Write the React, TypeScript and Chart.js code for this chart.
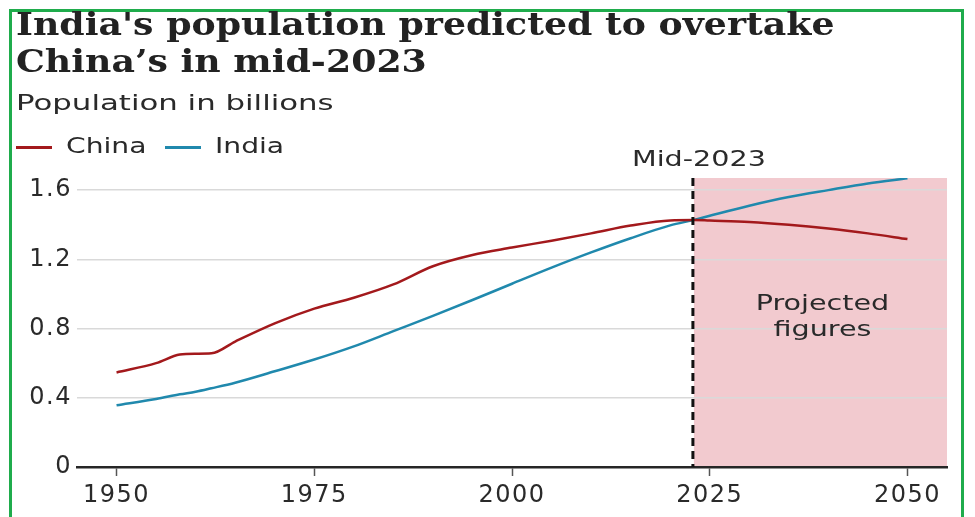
import React, { useEffect, useRef } from "react";
import { Chart, registerables } from "chart.js";

Chart.register(...registerables);

const years = [1950, 1955, 1958, 1960, 1962, 1965, 1970, 1975, 1980, 1985, 1990, 1995, 2000, 2005, 2010, 2015, 2020, 2023, 2025, 2030, 2035, 2040, 2045, 2050];
const chinaValues = [0.546, 0.6, 0.65, 0.655, 0.657, 0.725, 0.83, 0.915, 0.978, 1.055, 1.16, 1.225, 1.268, 1.308, 1.35, 1.395, 1.425, 1.427, 1.424, 1.416, 1.4, 1.378, 1.35, 1.317];
const indiaValues = [0.357, 0.393, 0.42, 0.435, 0.455, 0.487, 0.553, 0.621, 0.697, 0.785, 0.873, 0.965, 1.059, 1.152, 1.24, 1.322, 1.396, 1.428, 1.452, 1.51, 1.56, 1.6, 1.638, 1.668];
const xTicks = [1950, 1975, 2000, 2025, 2050];
const yTicks = [0, 0.4, 0.8, 1.2, 1.6];
const projectionStart = 2023;
const titleLines = ["India's population predicted to overtake", "China\u2019s in mid-2023"];
const subtitle = "Population in billions";
const seriesNames = ["China", "India"];
const markerLabel = "Mid-2023";
const projectionLabel = ["Projected", "figures"];

const CHINA = "#a3191c";
const INDIA = "#2089ad";
const SANS = "'DejaVu Sans', 'Open Sans', sans-serif";
const WIDE = 1.3;

function wideText(ctx: CanvasRenderingContext2D, text: string, x: number, y: number) {
  ctx.save();
  ctx.translate(x, y);
  ctx.scale(WIDE, 1);
  ctx.fillText(text, 0, 0);
  ctx.restore();
}

const projectionPlugin = {
  id: "projection",
  beforeDraw(chart: any) {
    const { ctx, chartArea, scales } = chart;
    const x0 = scales.x.getPixelForValue(projectionStart);
    ctx.save();
    ctx.fillStyle = "#f2cacf";
    ctx.fillRect(x0, chartArea.top, chartArea.right - x0, chartArea.bottom - chartArea.top);
    ctx.restore();
    ctx.letterSpacing = "1.5px";
  },
  afterDatasetsDraw(chart: any) {
    const { ctx, chartArea, scales } = chart;
    const x0 = scales.x.getPixelForValue(projectionStart);
    ctx.save();
    ctx.strokeStyle = "#111";
    ctx.lineWidth = 3;
    ctx.setLineDash([8, 5]);
    ctx.beginPath();
    ctx.moveTo(x0 - 1, chartArea.top);
    ctx.lineTo(x0 - 1, chartArea.bottom);
    ctx.stroke();
    ctx.setLineDash([]);
    ctx.fillStyle = "#2a2a2a";
    ctx.font = "22px " + SANS;
    (ctx as any).letterSpacing = "0px";
    ctx.textAlign = "center";
    ctx.textBaseline = "middle";
    wideText(ctx, markerLabel, x0 + 5, chartArea.top - 18);
    const cx = (x0 + chartArea.right) / 2 + 2;
    wideText(ctx, projectionLabel[0], cx, 304);
    wideText(ctx, projectionLabel[1], cx, 330);
    ctx.restore();
  },
};

export default function App() {
  const ref = useRef<HTMLCanvasElement>(null);
  useEffect(() => {
    document.body.style.margin = "0";
    const chart = new Chart(ref.current!, {
      type: "line",
      data: {
        datasets: [
          {
            label: seriesNames[0],
            data: years.map((y, i) => ({ x: y, y: chinaValues[i] })),
            borderColor: CHINA,
            borderWidth: 2.5,
            pointRadius: 0,
            cubicInterpolationMode: "monotone",
          },
          {
            label: seriesNames[1],
            data: years.map((y, i) => ({ x: y, y: indiaValues[i] })),
            borderColor: INDIA,
            borderWidth: 2.5,
            pointRadius: 0,
            cubicInterpolationMode: "monotone",
          },
        ],
      },
      options: {
        animation: false,
        responsive: false,
        devicePixelRatio: 1,
        layout: { padding: { top: 178, right: 28, left: 0, bottom: 0 } },
        plugins: { legend: { display: false }, title: { display: false }, tooltip: { enabled: false } },
        scales: {
          x: {
            type: "linear",
            min: 1945,
            max: 2055,
            afterBuildTicks: (s: any) => {
              s.ticks = xTicks.map((v) => ({ value: v }));
            },
            afterFit: (s: any) => {
              s.height = 50;
            },
            border: { display: true, color: "#262626", width: 2.5 },
            grid: { display: true, drawOnChartArea: false, drawTicks: true, tickLength: 9, tickColor: "#555", tickWidth: 1.5 },
            ticks: {
              color: "#2a2a2a",
              font: { family: SANS, size: 24 },
              padding: 5,
              maxRotation: 0,
              callback: (v: any) => String(v),
            },
          },
          y: {
            min: 0,
            max: 1.67,
            afterBuildTicks: (s: any) => {
              s.ticks = yTicks.map((v) => ({ value: v }));
            },
            afterFit: (s: any) => {
              s.width = 77;
            },
            border: { display: false },
            grid: {
              color: (c: any) => (c.tick && c.tick.value === 0 ? "rgba(0,0,0,0)" : "#d9d9d9"),
              lineWidth: 1.5,
              drawTicks: false,
            },
            ticks: {
              color: "#2a2a2a",
              font: { family: SANS, size: 24 },
              padding: 5,
              callback: (v: any) => (v === 0 ? "0" : Number(v).toFixed(1)),
            },
          },
        },
      },
      plugins: [projectionPlugin],
    });
    return () => chart.destroy();
  }, []);

  const sansText = (k: number): React.CSSProperties => ({
    position: "absolute",
    whiteSpace: "nowrap",
    font: "22px " + SANS,
    color: "#2a2a2a",
    transform: `scaleX(${k})`,
    transformOrigin: "left center",
  });
  return (
    <div style={{ position: "relative", width: 975, height: 517, overflow: "hidden", background: "#fff" }}>
      <canvas ref={ref} width={975} height={517} style={{ position: "absolute", left: 0, top: 0 }} />
      <div style={{ position: "absolute", left: 9, top: 9, width: 949, height: 520, border: "3px solid #1fac4c" }} />
      <div
        style={{
          position: "absolute",
          left: 16,
          top: 6,
          whiteSpace: "nowrap",
          font: "bold 31px 'DejaVu Serif', serif",
          lineHeight: "37px",
          color: "#222",
          transform: "scaleX(1.17)",
          transformOrigin: "left top",
        }}
      >
        {titleLines.map((l) => (
          <div key={l}>{l}</div>
        ))}
      </div>
      <div style={{ ...sansText(1.4), left: 16, top: 90, lineHeight: "26px" }}>{subtitle}</div>
      <div style={{ position: "absolute", left: 16, top: 146, width: 36, height: 2.5, background: CHINA }} />
      <div style={{ ...sansText(1.28), left: 66, top: 133, lineHeight: "26px" }}>{seriesNames[0]}</div>
      <div style={{ position: "absolute", left: 165, top: 146, width: 36, height: 2.5, background: INDIA }} />
      <div style={{ ...sansText(1.28), left: 215, top: 133, lineHeight: "26px" }}>{seriesNames[1]}</div>
    </div>
  );
}
